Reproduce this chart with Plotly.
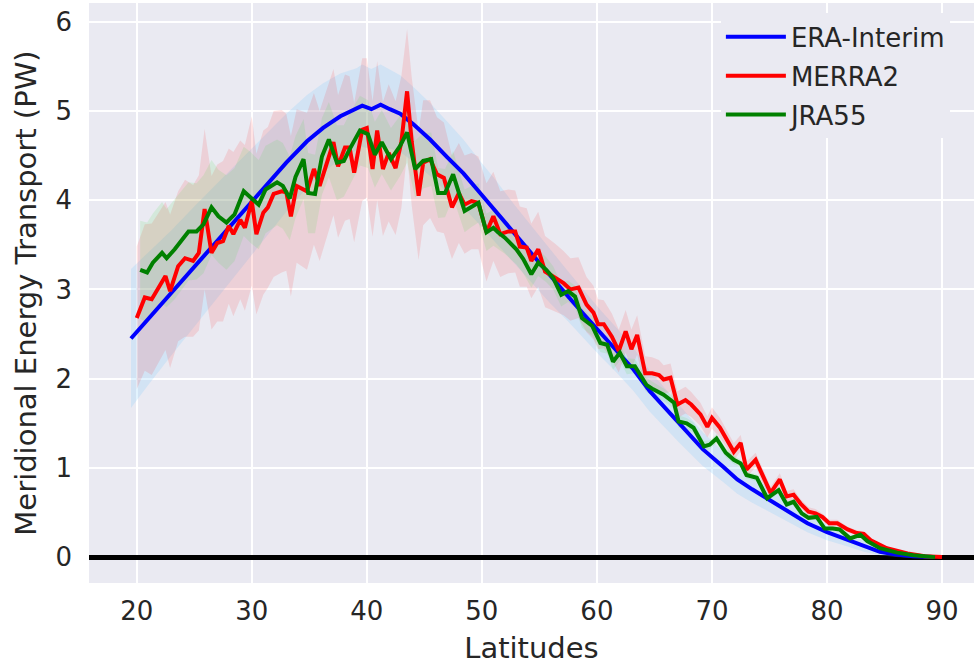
import plotly.graph_objects as go

# ---------------- data ----------------
x_ticks = [20, 30, 40, 50, 60, 70, 80, 90]
y_ticks = [0, 1, 2, 3, 4, 5, 6]

era_lat = [19.5, 21, 23, 25, 27, 29, 31, 33, 34.8, 36.2,
           37.7, 39.1, 39.6, 40.4, 41.2, 42.0, 42.9, 44.05, 45.5, 47.0,
           48.4, 49.85, 51.3, 52.7, 54.2, 55.9, 57.5, 58.8, 60.3, 61.7,
           63.2, 64.6, 66.0, 67.1, 69.2, 71.0, 72.2, 73.5, 75.1, 76.5,
           78.3, 80.0, 81.8, 83.2, 84.6, 86.0, 87.5, 89.25]
era_val = [2.45, 2.67, 2.96, 3.26, 3.55, 3.84, 4.13, 4.42, 4.66, 4.81,
           4.94, 5.02, 5.06, 5.02, 5.07, 5.02, 4.97, 4.85, 4.68, 4.48,
           4.30, 4.08, 3.86, 3.64, 3.41, 3.15, 2.92, 2.73, 2.51, 2.32,
           2.10, 1.86, 1.66, 1.50, 1.21, 1.01, 0.87, 0.76, 0.63, 0.52,
           0.38, 0.28, 0.19, 0.12, 0.06, 0.03, 0.01, 0.0]
era_std = [0.78, 0.74, 0.70, 0.67, 0.64, 0.61, 0.58, 0.55, 0.52, 0.50,
           0.48, 0.46, 0.46, 0.45, 0.45, 0.44, 0.43, 0.42, 0.41, 0.40,
           0.38, 0.36, 0.35, 0.33, 0.32, 0.30, 0.28, 0.27, 0.26, 0.25,
           0.24, 0.23, 0.22, 0.21, 0.19, 0.17, 0.16, 0.15, 0.13, 0.12,
           0.10, 0.09, 0.07, 0.06, 0.04, 0.03, 0.02, 0.0]

merra_lat = [20.0, 20.7, 21.3, 22.5, 22.9, 23.6, 24.2, 24.9, 25.4, 25.9,
             26.5, 27.0, 27.5, 28.0, 28.4, 29.0, 29.4, 30.0, 30.4, 31.0,
             31.4, 31.9, 32.6, 33.0, 33.4, 33.9, 34.8, 35.4, 35.9, 37.1,
             37.5, 38.1, 38.5, 38.9, 39.6, 40.0, 40.5, 40.9, 41.4, 41.9,
             42.5, 43.0, 43.5, 43.9, 44.5, 44.9, 45.5, 46.1, 46.7, 47.4,
             48.0, 48.5, 49.1, 49.7, 50.4, 51.0, 51.6, 52.3, 52.9, 53.3,
             53.9, 54.3, 54.9, 55.5, 56.4, 57.1, 57.7, 58.4, 59.1, 59.7,
             60.1, 60.6, 61.3, 61.9, 62.5, 63.0, 63.5, 64.2, 64.8, 65.4,
             65.8, 66.4, 67.0, 67.7, 68.2, 69.0, 69.6, 70.0, 70.7, 71.3,
             71.9, 72.5, 73.0, 73.8, 74.3, 75.1, 75.9, 76.5, 77.1, 77.7,
             78.4, 79.0, 79.6, 80.2, 80.9, 81.8, 82.6, 83.2, 83.8, 85.2,
             87.0, 88.5, 90.0]
merra_val = [2.68, 2.91, 2.89, 3.15, 2.98, 3.26, 3.35, 3.32, 3.41, 3.90,
             3.41, 3.52, 3.54, 3.71, 3.62, 3.78, 3.69, 3.99, 3.62, 3.86,
             3.92, 4.07, 4.10, 4.09, 3.82, 4.16, 4.10, 4.35, 4.16, 4.65,
             4.38, 4.59, 4.59, 4.31, 4.79, 4.81, 4.35, 4.78, 4.35, 4.53,
             4.36, 4.65, 5.22, 4.66, 4.05, 4.42, 4.46, 4.29, 4.25, 3.92,
             4.08, 3.95, 3.99, 3.97, 3.64, 3.82, 3.62, 3.65, 3.65, 3.48,
             3.47, 3.32, 3.45, 3.20, 3.13, 3.07, 3.00, 3.02, 2.83, 2.74,
             2.61, 2.61, 2.47, 2.31, 2.53, 2.33, 2.49, 2.06, 2.06, 2.04,
             1.99, 2.01, 1.71, 1.76, 1.71, 1.60, 1.46, 1.56, 1.45, 1.32,
             1.18, 1.28, 0.98, 1.09, 0.94, 0.72, 0.87, 0.68, 0.70, 0.60,
             0.51, 0.49, 0.45, 0.38, 0.38, 0.31, 0.27, 0.26, 0.19, 0.10,
             0.04, 0.01, 0.0]
merra_std = [0.80, 0.82, 0.85, 0.83, 0.86, 0.84, 0.88, 0.85, 0.87, 0.90,
             0.86, 0.88, 0.90, 0.87, 0.92, 0.89, 0.93, 0.95, 0.90, 0.92,
             0.90, 0.93, 0.91, 0.88, 0.90, 0.86, 0.88, 0.85, 0.84, 0.82,
             0.80, 0.82, 0.80, 0.78, 0.80, 0.78, 0.76, 0.78, 0.75, 0.77,
             0.75, 0.74, 0.70, 0.72, 0.72, 0.70, 0.66, 0.64, 0.62, 0.58,
             0.56, 0.55, 0.54, 0.52, 0.55, 0.50, 0.48, 0.47, 0.46, 0.45,
             0.44, 0.42, 0.42, 0.40, 0.38, 0.36, 0.35, 0.34, 0.31, 0.30,
             0.28, 0.27, 0.26, 0.24, 0.24, 0.22, 0.22, 0.19, 0.18, 0.17,
             0.16, 0.16, 0.15, 0.15, 0.14, 0.13, 0.12, 0.12, 0.11, 0.10,
             0.10, 0.09, 0.09, 0.08, 0.08, 0.07, 0.07, 0.06, 0.06, 0.05,
             0.05, 0.05, 0.04, 0.04, 0.04, 0.03, 0.03, 0.03, 0.02, 0.02,
             0.01, 0.01, 0.0]

jra_lat = [20.3, 20.9, 21.4, 22.2, 22.6, 23.3, 24.5, 25.2, 25.8, 26.5,
           27.1, 27.8, 28.5, 29.3, 29.9, 30.6, 31.2, 32.2, 32.7, 33.3,
           33.8, 34.5, 34.9, 35.5, 36.1, 36.7, 37.4, 38.0, 38.5, 39.4,
           40.1, 40.7, 41.3, 42.1, 42.9, 43.5, 44.2, 44.9, 45.6, 46.2,
           46.8, 47.5, 48.5, 49.1, 49.7, 50.4, 51.0, 51.4, 52.0, 53.0,
           53.6, 54.3, 54.9, 55.6, 56.2, 56.9, 57.5, 58.1, 58.7, 59.6,
           60.3, 60.9, 61.4, 62.0, 62.6, 63.3, 64.3, 64.9, 65.8, 66.7,
           67.1, 67.8, 68.4, 69.3, 69.8, 70.4, 71.2, 71.9, 72.5, 73.0,
           73.9, 74.8, 75.8, 76.5, 77.1, 77.8, 78.4, 79.1, 79.8, 80.5,
           81.1, 82.0, 82.9, 83.5, 84.6, 86.1, 87.5, 89.4]
jra_val = [3.22, 3.19, 3.30, 3.41, 3.35, 3.45, 3.65, 3.65, 3.73, 3.92,
           3.82, 3.75, 3.84, 4.10, 4.03, 3.95, 4.12, 4.20, 4.16, 4.02,
           4.26, 4.46, 4.08, 4.07, 4.49, 4.68, 4.42, 4.44, 4.57, 4.78,
           4.74, 4.51, 4.65, 4.46, 4.61, 4.76, 4.35, 4.44, 4.46, 4.08,
           4.08, 4.29, 3.88, 3.93, 3.97, 3.64, 3.69, 3.64, 3.58, 3.45,
           3.34, 3.17, 3.30, 3.22, 3.13, 2.94, 2.98, 2.92, 2.68, 2.59,
           2.40, 2.38, 2.19, 2.29, 2.14, 2.14, 1.93, 1.88, 1.82, 1.73,
           1.52, 1.50, 1.45, 1.24, 1.26, 1.33, 1.17, 1.09, 1.05, 0.92,
           0.89, 0.66, 0.75, 0.59, 0.62, 0.49, 0.44, 0.45, 0.32, 0.32,
           0.31, 0.21, 0.25, 0.18, 0.10, 0.05, 0.02, 0.0]
jra_std = [0.55, 0.56, 0.55, 0.57, 0.55, 0.56, 0.55, 0.54, 0.55, 0.53,
           0.52, 0.53, 0.52, 0.50, 0.51, 0.50, 0.49, 0.48, 0.48, 0.47,
           0.46, 0.45, 0.45, 0.44, 0.43, 0.42, 0.42, 0.40, 0.40, 0.39,
           0.38, 0.37, 0.36, 0.35, 0.34, 0.34, 0.32, 0.31, 0.30, 0.28,
           0.27, 0.26, 0.24, 0.23, 0.22, 0.21, 0.20, 0.19, 0.18, 0.17,
           0.16, 0.15, 0.15, 0.14, 0.13, 0.13, 0.12, 0.12, 0.11, 0.11,
           0.10, 0.10, 0.09, 0.09, 0.09, 0.08, 0.08, 0.08, 0.07, 0.07,
           0.07, 0.06, 0.06, 0.06, 0.05, 0.05, 0.05, 0.05, 0.04, 0.04,
           0.04, 0.04, 0.03, 0.03, 0.03, 0.03, 0.03, 0.02, 0.02, 0.02,
           0.02, 0.02, 0.01, 0.01, 0.01, 0.01, 0.0, 0.0]

series = [
    ("ERA-Interim", era_lat, era_val, era_std, "#0000ff", "rgba(135,206,250,0.24)"),
    ("MERRA2", merra_lat, merra_val, merra_std, "#ff0000", "rgba(255,0,0,0.11)"),
    ("JRA55", jra_lat, jra_val, jra_std, "#008000", "rgba(60,220,60,0.12)"),
]

FONT = "DejaVu Sans"
TXT = "#262626"

fig = go.Figure()

# shaded spread bands
for name, lat, val, std, col, fcol in series:
    upper = [v + s for v, s in zip(val, std)]
    lower = [v - s for v, s in zip(val, std)]
    fig.add_trace(go.Scatter(
        x=list(lat) + list(lat)[::-1],
        y=upper + lower[::-1],
        fill="toself", fillcolor=fcol, line=dict(width=0),
        mode="lines", showlegend=False, hoverinfo="skip"))

# mean lines
for name, lat, val, std, col, fcol in series:
    fig.add_trace(go.Scatter(
        x=lat, y=val, mode="lines", name=name, legendgroup=name,
        line=dict(color=col, width=4)))

fig.update_layout(
    width=974, height=666,
    margin=dict(l=89, r=0, t=3, b=83),
    paper_bgcolor="white", plot_bgcolor="#EAEAF2",
    font=dict(family=FONT, color=TXT, size=26),
    legend=dict(x=0.714, y=0.982, xanchor="left", yanchor="top",
                bgcolor="#EAEAF2", borderwidth=0,
                font=dict(family=FONT, size=26, color=TXT),
                tracegroupgap=2, itemwidth=60),
    showlegend=True,
    hovermode=False,
)
fig.update_xaxes(
    range=[15.85, 92.78], tickvals=x_ticks, showgrid=True, automargin=False,
    gridcolor="white", gridwidth=1.8, zeroline=False, showline=False,
    ticks="", ticklabelstandoff=10,
    tickfont=dict(family=FONT, size=26, color=TXT),
    title=dict(text="Latitudes", font=dict(family=FONT, size=29, color=TXT), standoff=12))
fig.update_yaxes(
    range=[-0.29, 6.21], tickvals=y_ticks, showgrid=True, automargin=False,
    gridcolor="white", gridwidth=1.8,
    zeroline=True, zerolinecolor="black", zerolinewidth=4.5,
    showline=False, ticks="", ticklabelstandoff=16,
    tickfont=dict(family=FONT, size=26, color=TXT),
    title=dict(text="Meridional Energy Transport (PW)", font=dict(family=FONT, size=29, color=TXT), standoff=10))

fig.write_html("out.html", config={"displayModeBar": False},
               post_script="document.body.style.margin='0px';")
